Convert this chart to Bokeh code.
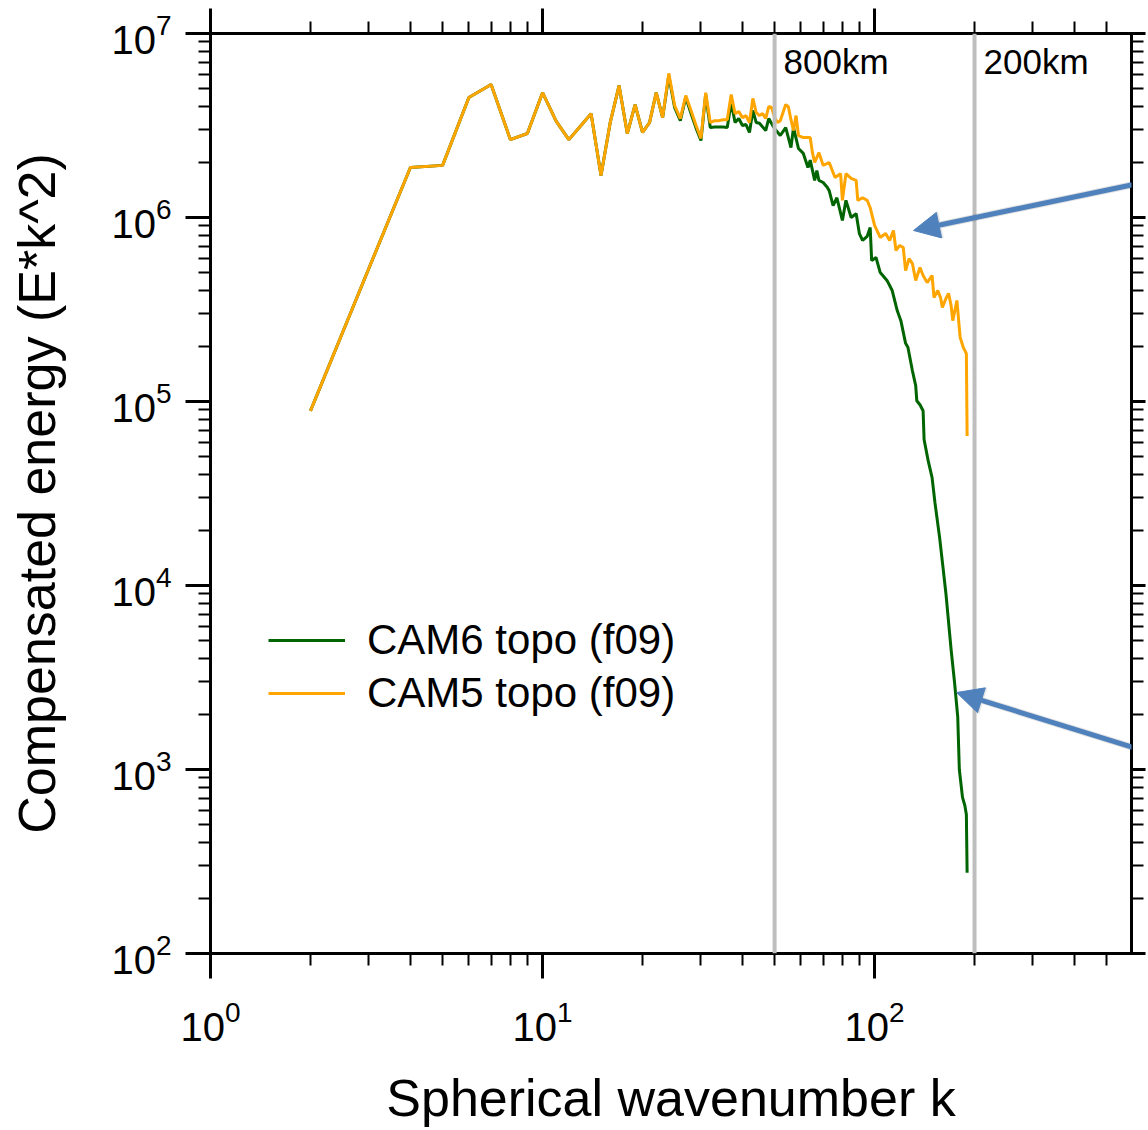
from bokeh.plotting import figure
from bokeh.models import LogAxis, Span, Label, Arrow, NormalHead, Legend, LegendItem, LogTicker
from bokeh.embed import file_html
from bokeh.resources import INLINE

# ---- data ----
k_cam5 = [2, 3, 4, 5, 6, 7, 8, 9, 10, 11, 12, 13, 14, 15, 16, 17, 18, 19, 20,
          21, 22, 23, 24, 25, 26, 27, 28, 29, 30, 31, 32, 33, 34, 35, 36, 37,
          38, 39, 40, 41, 42, 43, 44, 45, 46, 47, 48, 49, 50, 51, 52, 53, 54,
          55, 56, 57, 58, 59, 61, 64, 65, 66, 68, 70, 73, 76, 79, 80, 82, 85,
          88, 89, 92, 95, 97, 100, 104, 108, 111, 114, 116, 119, 122, 124, 127,
          130, 133, 137, 140, 144, 149, 151, 155, 158, 160, 164, 167, 170, 172,
          177, 181, 185, 189, 190]
e_cam5 = [8.9e4, 5.3e5, 1.87e6, 1.92e6, 4.49e6, 5.28e6, 2.65e6, 2.86e6, 4.77e6,
          3.33e6, 2.65e6, 3.13e6, 3.67e6, 1.69e6, 3.3e6, 5.21e6, 2.86e6, 4.11e6,
          2.90e6, 3.28e6, 4.77e6, 3.49e6, 6.07e6, 4.06e6, 3.45e6, 4.60e6, 3.82e6,
          3.16e6, 2.69e6, 4.77e6, 3.28e6, 3.36e6, 3.36e6, 3.40e6, 3.40e6, 4.66e6,
          3.67e6, 3.77e6, 3.49e6, 3.58e6, 3.28e6, 4.44e6, 3.72e6, 3.58e6, 3.67e6,
          3.45e6, 4.01e6, 3.96e6, 3.49e6, 3.28e6, 3.36e6, 3.72e6, 4.11e6, 4.0e6,
          3.4e6, 2.97e6, 3.58e6, 2.79e6, 2.72e6, 2.72e6, 2.25e6, 1.99e6, 2.25e6,
          1.92e6, 1.99e6, 1.65e6, 1.73e6, 1.24e6, 1.73e6, 1.63e6, 1.59e6, 1.24e6,
          1.28e6, 1.24e6, 1.13e6, 9.05e5, 7.79e5, 8.18e5, 7.5e5, 8.5e5, 6.62e5,
          7.05e5, 6.87e5, 5.15e5, 5.98e5, 5.62e5, 4.55e5, 5.35e5, 4.84e5, 4.43e5,
          4.84e5, 3.67e5, 4.01e5, 3.67e5, 3.24e5, 3.63e5, 3.87e5, 3.33e5, 2.75e5,
          3.54e5, 2.23e5, 1.97e5, 1.82e5, 6.5e4]

k_cam6 = [2, 3, 4, 5, 6, 7, 8, 9, 10, 11, 12, 13, 14, 15, 16, 17, 18, 19, 20,
          21, 22, 23, 24, 25, 26, 27, 28, 29, 30, 31, 32, 33, 34, 35, 36, 37,
          38, 39, 40, 41, 42, 43, 44, 45, 47, 48, 50, 52, 54, 56, 57, 59, 61,
          63, 64, 66, 67, 68, 70, 72, 73, 75, 77, 80, 82, 85, 88, 90, 92, 95,
          97, 98, 101, 104, 109, 113, 117, 120, 124, 126, 130, 133, 134, 137,
          140, 141, 145, 149, 152, 157, 161, 164, 167, 170, 174, 178, 180, 184,
          187, 189, 190]
e_cam6 = [8.9e4, 5.3e5, 1.87e6, 1.92e6, 4.49e6, 5.28e6, 2.65e6, 2.86e6, 4.77e6,
          3.33e6, 2.65e6, 3.13e6, 3.67e6, 1.69e6, 3.3e6, 5.21e6, 2.86e6, 4.11e6,
          2.90e6, 3.28e6, 4.77e6, 3.49e6, 5.9e6, 3.95e6, 3.36e6, 4.5e6, 3.67e6,
          3.06e6, 2.62e6, 4.66e6, 3.08e6, 3.1e6, 3.1e6, 3.1e6, 3.08e6, 4.22e6,
          3.28e6, 3.45e6, 3.16e6, 3.2e6, 2.90e6, 3.82e6, 3.28e6, 3.25e6, 2.97e6,
          3.45e6, 3.04e6, 2.79e6, 3.08e6, 2.40e6, 3.08e6, 2.37e6, 2.23e6, 1.87e6,
          2.05e6, 1.59e6, 1.80e6, 1.59e6, 1.55e6, 1.46e6, 1.40e6, 1.16e6, 1.28e6,
          9.64e5, 1.24e6, 1.0e6, 1.05e6, 8.18e5, 7.5e5, 7.9e5, 8.83e5, 5.83e5,
          6.06e5, 5.02e5, 4.55e5, 4.01e5, 3.12e5, 2.75e5, 2.07e5, 1.97e5, 1.47e5,
          1.22e5, 1.01e5, 9.6e4, 8.9e4, 6.2e4, 4.77e4, 3.86e4, 2.82e4, 1.82e4,
          1.22e4, 9.05e3, 6.37e3, 4.49e3, 3.01e3, 1.94e3, 1.0e3, 7.05e2, 6.37e2,
          5.7e2, 2.75e2]

legend_labels = ["CAM6 topo (f09)", "CAM5 topo (f09)"]
ref_k = [50, 200]
ref_labels = ["800km", "200km"]

FONT = "Liberation Sans"
BLUE = "#4F81BD"

p = figure(width=1148, height=1130, x_axis_type="log", y_axis_type="log",
           x_range=(1, 594), y_range=(1e2, 1e7), output_backend="svg",
           toolbar_location=None, min_border_left=210, min_border_right=17,
           min_border_top=33, min_border_bottom=177)
p.xgrid.grid_line_color = None
p.ygrid.grid_line_color = None
p.outline_line_color = "black"
p.outline_line_width = 3
p.background_fill_color = "white"
p.border_fill_color = "white"


def style_axis(ax, labels=True, out=25):
    ax.ticker = LogTicker(num_minor_ticks=10, desired_num_ticks=8)
    ax.axis_line_width = 3
    ax.major_tick_line_width = 3
    ax.minor_tick_line_width = 2
    ax.major_tick_out = out
    ax.major_tick_in = 0
    ax.minor_tick_out = 12
    ax.minor_tick_in = 0
    if labels:
        ax.major_label_text_font = FONT
        ax.major_label_text_font_size = "40px"
        ax.major_label_text_color = "black"
        ax.axis_label_text_font = FONT
        ax.axis_label_text_font_size = "52px"
        ax.axis_label_text_font_style = "normal"
        ax.axis_label_text_color = "black"
    else:
        ax.major_label_text_font_size = "1px"
        ax.major_label_text_alpha = 0
        ax.major_label_standoff = 0


style_axis(p.xaxis[0])
style_axis(p.yaxis[0])
p.xaxis.axis_label = "Spherical wavenumber k"
p.yaxis.axis_label = "Compensated energy (E*k^2)"
p.xaxis.major_label_standoff = 21
p.yaxis.major_label_standoff = 14
p.xaxis.axis_label_standoff = 25
p.yaxis.axis_label_standoff = 42

top = LogAxis()
style_axis(top, labels=False)
p.add_layout(top, "above")
right = LogAxis()
style_axis(right, labels=False, out=14)
p.add_layout(right, "right")

for kk, lab in zip(ref_k, ref_labels):
    p.add_layout(Span(location=kk, dimension="height", line_color="#BEBEBE",
                      line_width=4))
    p.add_layout(Label(x=kk, y=1e7, x_offset=9, y_offset=-8, text=lab,
                       text_font=FONT, text_font_size="35px",
                       text_baseline="top", text_color="black"))

g = p.line(k_cam6, e_cam6, line_color="#006400", line_width=3)
o = p.line(k_cam5, e_cam5, line_color="#FFA500", line_width=3)

legend = Legend(items=[LegendItem(label=legend_labels[0], renderers=[g]),
                       LegendItem(label=legend_labels[1], renderers=[o])],
                location=(58, 236), label_text_font=FONT,
                label_text_font_size="42px", label_text_color="black",
                glyph_width=77, glyph_height=40,
                label_standoff=22, spacing=5, padding=0, margin=0,
                border_line_color=None, background_fill_alpha=0)
p.add_layout(legend)

# arrows (with a soft shadow)
for (xs, ys, xe, ye) in [(668, 1.57e6, 131, 8.5e5), (668, 1.24e3, 176.6, 2.62e3)]:
    p.add_layout(Arrow(x_start=xs, y_start=ys, x_end=xe, y_end=ye,
                       line_color="#000000", line_alpha=0.12, line_width=7,
                       end=NormalHead(size=28, fill_color="#000000", fill_alpha=0.1,
                                      line_color=None)))
    p.add_layout(Arrow(x_start=xs, y_start=ys, x_end=xe, y_end=ye,
                       line_color=BLUE, line_width=5,
                       end=NormalHead(size=26, fill_color=BLUE, line_color=BLUE)))

open("out.html", "w").write(file_html(p, INLINE))
